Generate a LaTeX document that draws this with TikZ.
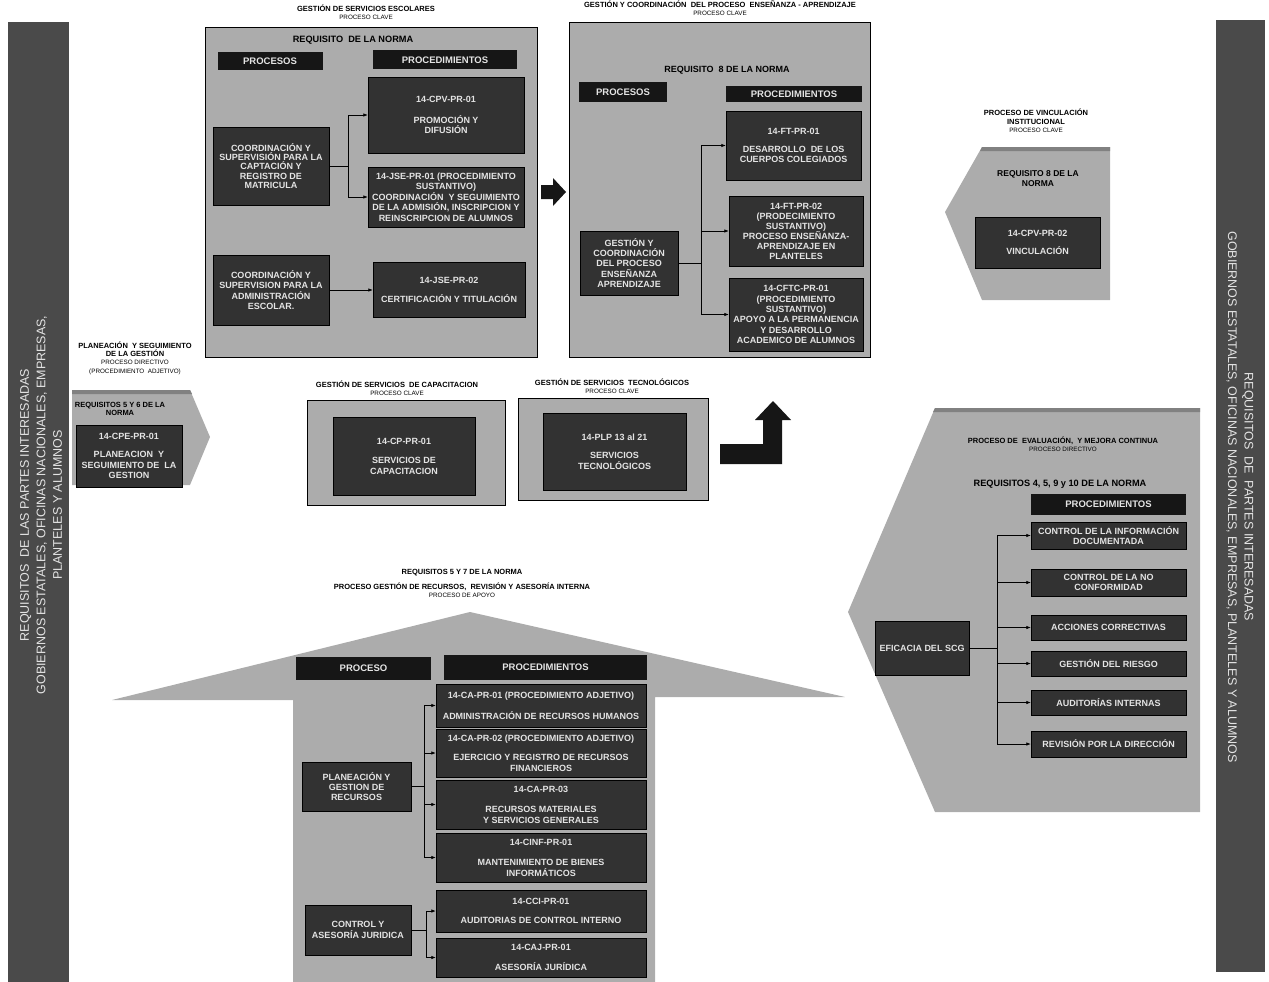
\documentclass[tikz,border=0pt]{standalone}
\usepackage{fontspec}
\setmainfont{Liberation Sans}
\usetikzlibrary{arrows.meta}

\definecolor{fondo}{RGB}{172,172,172}
\definecolor{caja}{RGB}{50,50,50}
\definecolor{cabeza}{RGB}{22,22,22}
\definecolor{letra}{RGB}{228,228,228}
\definecolor{barra}{RGB}{74,74,74}
\newcommand{\subtit}[1]{{\mdseries\fontsize{6.3}{7.8}\selectfont #1}}

\begin{document}
\begin{tikzpicture}[x=1pt, y=-1pt,
  marco/.style={fill=fondo, draw=black, line width=0.6pt},
  bloque/.style={fill=fondo},
  negra/.style 2 args={fill=caja, draw=black, text=letra, align=center,
    font=\bfseries\fontsize{9}{10.4}\selectfont, inner sep=1pt,
    minimum width=#1, minimum height=#2},
  encabezado/.style 2 args={fill=cabeza, text=letra, inner sep=0pt,
    font=\bfseries\fontsize{9.5}{10}\selectfont, minimum width=#1, minimum height=#2},
  titulo/.style={align=center, inner sep=0pt, font=\bfseries\fontsize{7.5}{8.3}\selectfont},
  req/.style={align=center, inner sep=0pt, font=\bfseries\fontsize{9.2}{10}\selectfont},
  lateral/.style={align=center, inner sep=0pt, text=letra, font=\fontsize{12.5}{16.5}\selectfont},
  flecha/.style={->, line width=0.7pt},
  >={Latex[length=4.5pt,width=3.5pt]}]

\useasboundingbox (0,0) rectangle (1269,982);

% Barres latérales
\fill[barra] (8,22) rectangle (69,982);
\node[lateral, rotate=90] (izq) at (41,505)
  {REQUISITOS \ DE LAS PARTES INTERESADAS\\GOBIERNOS ESTATALES, OFICINAS NACIONALES, EMPRESAS,\\PLANTELES Y ALUMNOS};
\fill[barra] (1216,20) rectangle (1265,972);
\node[lateral, rotate=-90] (der) at (1240,497)
  {REQUISITOS \ DE \ PARTES INTERESADAS\\GOBIERNOS ESTATALES, OFICINAS NACIONALES, EMPRESAS, PLANTELES Y ALUMNOS};

% Servicios escolares
\draw[marco] (205,27) rectangle (537,357);
\node[titulo] (tEsc) at (366,12) {GESTIÓN DE SERVICIOS ESCOLARES\\\subtit{PROCESO CLAVE}};
\node[req] (rEsc) at (353,40) {REQUISITO \ DE LA NORMA};
\node[encabezado={105}{18}] (hProcA) at (270,61) {PROCESOS};
\node[encabezado={144}{19}] (hProcedA) at (445,60) {PROCEDIMIENTOS};
\node[negra={156}{76}] (cpvA) at (446,115) {14-CPV-PR-01\\[10pt]PROMOCIÓN Y\\DIFUSIÓN};
\node[negra={156}{60}] (jseA) at (446,197)
  {14-JSE-PR-01 (PROCEDIMIENTO\\SUSTANTIVO)\\COORDINACIÓN \ Y SEGUIMIENTO\\DE LA ADMISIÓN, INSCRIPCION Y\\REINSCRIPCION DE ALUMNOS};
\node[negra={116}{78}, font=\bfseries\fontsize{9}{9.2}\selectfont] (pA1) at (271,166)
  {COORDINACIÓN Y\\SUPERVISIÓN PARA LA\\CAPTACIÓN Y\\REGISTRO DE\\MATRICULA};
\node[negra={116}{70}] (pA2) at (271,290) {COORDINACIÓN Y\\SUPERVISION PARA LA\\ADMINISTRACIÓN\\ESCOLAR.};
\node[negra={152}{55}] (jseB) at (449,290) {14-JSE-PR-02\\[8pt]CERTIFICACIÓN Y TITULACIÓN};
\draw[flecha] (pA1.east) -- ++(19,0) |- (cpvA.west);
\draw[flecha] (pA1.east) -- ++(19,0) |- (jseA.west);
\draw[flecha] (pA2.east) -- (jseB.west);

% Flèche pleine
\fill[cabeza] (541,185) -- (553,185) -- (553,178) -- (566,192) -- (553,206) -- (553,199) -- (541,199) -- cycle;

% Enseñanza - aprendizaje
\draw[marco] (569,22) rectangle (870,357);
\node[titulo] (tEns) at (720,8) {GESTIÓN Y COORDINACIÓN \ DEL PROCESO \ ENSEÑANZA - APRENDIZAJE\\\subtit{PROCESO CLAVE}};
\node[req, font=\bfseries\fontsize{9}{10}\selectfont] (rEns) at (727,70) {REQUISITO \ 8 DE LA NORMA};
\node[encabezado={88}{20}] (hProcB) at (623,92) {PROCESOS};
\node[encabezado={136}{16}] (hProcedB) at (794,94) {PROCEDIMIENTOS};
\node[negra={135}{69}] (ftA) at (793.5,145.5) {14-FT-PR-01\\[8pt]DESARROLLO \ DE LOS\\CUERPOS COLEGIADOS};
\node[negra={134}{70}, font=\bfseries\fontsize{9}{10}\selectfont] (ftB) at (796,231)
  {14-FT-PR-02\\(PRODECIMIENTO\\SUSTANTIVO)\\PROCESO ENSEÑANZA-\\APRENDIZAJE EN\\PLANTELES};
\node[negra={134}{73}, font=\bfseries\fontsize{9}{10.4}\selectfont] (cftc) at (796,314.5)
  {14-CFTC-PR-01\\(PROCEDIMIENTO\\SUSTANTIVO)\\APOYO A LA PERMANENCIA\\Y DESARROLLO\\ACADEMICO DE ALUMNOS};
\node[negra={98}{64}] (pB) at (629,263) {GESTIÓN Y\\COORDINACIÓN\\DEL PROCESO\\ENSEÑANZA\\APRENDIZAJE};
\foreach \d in {ftA, ftB, cftc}
  \draw[flecha] (pB.east) -- ++(23,0) |- (\d.west);

% Vinculación
\fill[bloque] (945,212) -- (982,147) -- (1110,147) -- (1110,300) -- (982,300) -- cycle;
\fill[fondo!75!black] (982,147) -- (1110,147) -- (1110,151) -- (980,151) -- cycle;
\node[titulo] (tVin) at (1036,121) {PROCESO DE VINCULACIÓN\\INSTITUCIONAL\\\subtit{PROCESO CLAVE}};
\node[req, font=\bfseries\fontsize{8.5}{10}\selectfont] (rVin) at (1038,179) {REQUISITO 8 DE LA\\NORMA};
\node[negra={125}{51}] (vin) at (1037.5,242.5) {14-CPV-PR-02\\[8pt]VINCULACIÓN};

% Planeación
\fill[bloque] (72,390) -- (190,390) -- (210,437) -- (190,485) -- (72,485) -- cycle;
\fill[fondo!75!black] (72,390) -- (190,390) -- (192,394) -- (72,394) -- cycle;
\node[titulo] (tPla) at (135,358)
  {PLANEACIÓN \ Y SEGUIMIENTO\\DE LA GESTIÓN\\\subtit{PROCESO DIRECTIVO}\\\subtit{(PROCEDIMIENTO \ ADJETIVO)}};
\node[titulo] (rPla) at (120,409) {REQUISITOS 5 Y 6 DE LA\\NORMA};
\node[negra={106}{62}] (cpe) at (129,456) {14-CPE-PR-01\\[8pt]PLANEACION \ Y\\SEGUIMIENTO DE \ LA\\GESTION};

% Capacitación y tecnológicos
\draw[marco] (307,400) rectangle (505,505);
\node[titulo] (tCap) at (397,388) {GESTIÓN DE SERVICIOS \ DE CAPACITACION\\\subtit{PROCESO CLAVE}};
\node[negra={142}{78}] (cp) at (404,456) {14-CP-PR-01\\[9pt]SERVICIOS DE\\CAPACITACION};
\draw[marco] (518,398) rectangle (708,500);
\node[titulo] (tTec) at (612,386) {GESTIÓN DE SERVICIOS \ TECNOLÓGICOS\\\subtit{PROCESO CLAVE}};
\node[negra={143}{77}] (plp) at (614.5,451.5) {14-PLP 13 al 21\\[8pt]SERVICIOS\\TECNOLÓGICOS};

% Flèche coudée
\fill[cabeza] (720,444) -- (763,444) -- (763,420) -- (755,420) -- (773,401) -- (791,420) -- (782,420)
  -- (782,464) -- (720,464) -- cycle;

% Evaluación y mejora continua
\fill[bloque] (848,612) -- (935,408) -- (1200,408) -- (1200,812) -- (935,812) -- cycle;
\fill[fondo!75!black] (935,408) -- (1200,408) -- (1200,412) -- (933,412) -- cycle;
\node[titulo] (tEva) at (1063,444) {PROCESO DE \ EVALUACIÓN, \ Y MEJORA CONTINUA\\\subtit{PROCESO DIRECTIVO}};
\node[req] (rEva) at (1060,484) {REQUISITOS 4, 5, 9 y 10 DE LA NORMA};
\node[encabezado={155}{21}] (hProcedE) at (1108.5,504.5) {PROCEDIMIENTOS};
\node[negra={155}{27}] (e1) at (1108.5,535.5) {CONTROL DE LA INFORMACIÓN\\DOCUMENTADA};
\node[negra={155}{27}] (e2) at (1108.5,582.5) {CONTROL DE LA NO\\CONFORMIDAD};
\node[negra={155}{25}] (e3) at (1108.5,627.5) {ACCIONES CORRECTIVAS};
\node[negra={155}{25}] (e4) at (1108.5,663.5) {GESTIÓN DEL RIESGO};
\node[negra={155}{25}] (e5) at (1108.5,702.5) {AUDITORÍAS INTERNAS};
\node[negra={155}{26}] (e6) at (1108.5,744) {REVISIÓN POR LA DIRECCIÓN};
\node[negra={94}{54}] (efi) at (922,648) {EFICACIA DEL SCG};
\foreach \d in {e1, e2, e3, e4, e5, e6}
  \draw[flecha] (efi.east) -- ++(28,0) |- (\d.west);

% Gestión de recursos
\fill[bloque] (112,700) -- (470,612) -- (845,697) -- (655,697) -- (655,982) -- (293,982) -- (293,700) -- cycle;
\node[titulo] (rRec) at (462,573) {REQUISITOS 5 Y 7 DE LA NORMA};
\node[titulo] (tRec) at (462,590) {PROCESO GESTIÓN DE RECURSOS, \ REVISIÓN Y ASESORÍA INTERNA\\\subtit{PROCESO DE APOYO}};
\node[encabezado={135}{23}] (hProcC) at (363.5,668.5) {PROCESO};
\node[encabezado={203}{25}] (hProcedC) at (545.5,667.5) {PROCEDIMIENTOS};
\node[negra={210}{43}] (c1) at (541,705.5) {14-CA-PR-01 (PROCEDIMIENTO ADJETIVO)\\[11pt]ADMINISTRACIÓN DE RECURSOS HUMANOS};
\node[negra={210}{48}] (c2) at (541,753) {14-CA-PR-02 (PROCEDIMIENTO ADJETIVO)\\[9pt]EJERCICIO Y REGISTRO DE RECURSOS\\FINANCIEROS};
\node[negra={210}{49}] (c3) at (541,804.5) {14-CA-PR-03\\[10pt]RECURSOS MATERIALES\\Y SERVICIOS GENERALES};
\node[negra={210}{49}] (c4) at (541,857.5) {14-CINF-PR-01\\[10pt]MANTENIMIENTO DE BIENES\\INFORMÁTICOS};
\node[negra={210}{42}] (c5) at (541,911) {14-CCI-PR-01\\[9pt]AUDITORIAS DE CONTROL INTERNO};
\node[negra={210}{39}] (c6) at (541,957.5) {14-CAJ-PR-01\\[9pt]ASESORÍA JURÍDICA};
\node[negra={109}{49}] (pC1) at (356.5,786.5) {PLANEACIÓN Y\\GESTION DE\\RECURSOS};
\node[negra={106}{50}] (pC2) at (358,930) {CONTROL Y\\ASESORÍA JURIDICA};
\foreach \d in {c1, c2, c3, c4}
  \draw[flecha] (pC1.east) -- ++(13,0) |- (\d.west);
\foreach \d in {c5, c6}
  \draw[flecha] (pC2.east) -- ++(15,0) |- (\d.west);

\end{tikzpicture}
\end{document}
